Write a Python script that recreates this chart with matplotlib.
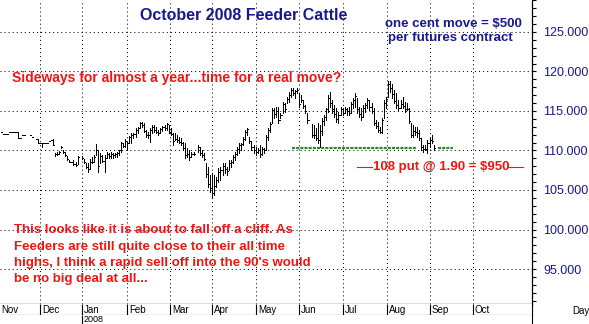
import matplotlib
matplotlib.use('Agg')
import matplotlib.pyplot as plt
import numpy as np
from matplotlib.ticker import MultipleLocator

plt.rcParams['font.family'] = ['Liberation Sans', 'DejaVu Sans']
plt.rcParams['lines.scale_dashes'] = False

nan = float('nan')

# daily high / low / close, Oct 2008 feeder cattle
highs = [112.4, 112.1, 112.1, 112.1, 112.3, 112.3, 112.3, 112.3, 112.3, 111.55,
         111.9, 111.9, nan, nan, 111.9, 111.75, nan, 111.4, 111.4, 110.9,
         110.9, 110.9, 110.9, 111.25, 111.3, 111.5, 109.7, 109.8, 109.9, 110.6,
         110.1, 109.8, 109.3, 108.8, 108.5, 108.8, 108.5, 109.3, nan, 109.3,
         108.9, 108.4, 108.4, 108.9, 109.2, 109.4, 110.8, 110.1, 109.7, 109.4,
         109.4, 109.8, 109.7, 109.8, 109.7, 109.7, 109.8, 110.1, 111.1, 110.95,
         111.45, 111.1, 111.85, 112.2, 112.2, 112.85, 113.0, 113.6, 113.6, 113.5,
         112.6, 112.3, 112.85, 113.2, 113.2, 113.0, 112.6, 112.85, 113.1, 113.2,
         113.5, 113.2, 112.85, 112.2, 112.2, 111.95, 111.7, 111.6, 111.1, 110.95,
         110.3, 110.05, 109.8, 109.8, nan, 110.7, 110.45, 110.05, 109.7, 108.4,
         107.9, 106.9, 107.15, 106.9, 106.65, 107.8, 107.9, 108.4, 108.4, 107.9,
         108.8, 108.8, 109.4, 109.8, 110.45, 110.95, 110.95, 111.7, 112.6, 112.85,
         111.7, 111.1, 110.7, 110.45, 110.3, 110.7, 110.45, 110.3, 111.95, 112.85,
         113.6, 115.4, 115.4, 115.5, 115.5, 114.75, 116.15, 116.0, 116.8, 117.4,
         117.9, 117.9, 117.65, 117.9, 117.3, 117.0, 116.4, 115.75, 114.75, nan,
         113.35, 113.2, 112.85, 113.5, 113.2, 114.1, 114.5, 115.4, 117.0, 117.4,
         116.4, 115.75, 115.4, 114.9, 115.5, 115.4, 115.5, 115.4, 115.5, 116.15,
         116.65, 117.3, 116.65, 115.5, 115.4, 115.75, 116.0, 116.65, 116.4, 116.0,
         115.4, 113.85, 113.6, 113.0, 114.1, 116.4, 116.8, 118.8, 118.8, 118.4,
         117.65, 117.3, 116.4, 116.4, 116.8, 116.15, 116.0, 115.4, 113.5, 113.2,
         113.0, 113.0, 112.6, 111.6, 110.7, 110.7, 111.3, 111.6, 111.95, 110.7]
lows = [112.4, 112.1, 112.1, 112.1, 112.3, 112.3, 112.3, 112.3, 111.55, 111.55,
        111.9, 111.9, nan, nan, 111.9, 111.75, nan, 111.4, 110.9, 110.9,
        110.4, 110.9, 110.9, 111.25, 111.3, 110.7, 109.3, 109.4, 109.5, 110.3,
        109.7, 109.3, 108.8, 108.5, 108.5, 108.2, 108.0, 108.3, nan, 108.9,
        108.4, 107.8, 107.3, 107.7, 108.4, 108.5, 109.4, 107.3, 108.4, 108.5,
        107.3, 109.05, 109.1, 109.1, 109.05, 109.2, 109.2, 109.4, 109.8, 110.45,
        110.45, 110.1, 110.95, 110.95, 111.6, 111.7, 112.2, 112.85, 113.0, 112.3,
        111.7, 111.6, 111.1, 112.2, 112.3, 112.2, 112.0, 112.2, 112.5, 112.6,
        112.6, 112.2, 111.95, 110.7, 111.3, 111.1, 110.95, 110.7, 110.05, 109.05,
        109.2, 108.8, 109.2, 109.4, nan, 109.8, 109.45, 109.2, 108.8, 106.65,
        105.4, 104.75, 104.1, 104.4, 105.4, 106.0, 106.3, 106.9, 107.15, 106.9,
        107.5, 107.9, 108.4, 108.8, 109.4, 109.7, 110.05, 110.7, 111.3, 111.95,
        110.95, 110.05, 109.7, 109.45, 109.7, 109.2, 109.45, 109.7, 110.05, 111.3,
        112.35, 113.5, 114.1, 114.25, 113.5, 114.1, 114.75, 114.9, 116.0, 116.15,
        116.8, 117.0, 116.65, 117.3, 115.5, 116.15, 115.4, 114.75, 113.5, nan,
        111.7, 111.6, 111.3, 110.95, 110.45, 111.95, 113.2, 113.85, 114.9, 115.5,
        114.75, 114.25, 113.6, 113.5, 114.5, 114.5, 114.75, 114.5, 114.5, 114.75,
        115.4, 115.5, 114.75, 114.25, 113.85, 114.25, 114.9, 115.4, 115.1, 114.75,
        113.2, 112.85, 112.35, 112.2, 112.2, 114.1, 115.4, 116.8, 117.4, 116.65,
        116.0, 115.4, 115.1, 115.4, 115.4, 114.9, 115.1, 113.5, 111.7, 111.7,
        111.95, 111.7, 111.3, 110.05, 109.8, 110.05, 109.7, 110.45, 110.95, 110.05]
closes = [112.4, 112.1, 112.1, 112.1, 112.3, 112.3, 112.3, 112.3, 111.55, 111.55,
          111.9, 111.9, nan, nan, 111.9, 111.75, nan, 111.4, 110.9, 110.9,
          110.9, 110.9, 110.9, 111.25, 111.3, 110.7, 109.5, 109.6, 109.8, 110.4,
          109.8, 109.4, 108.9, 108.5, 108.5, 108.3, 108.2, 109.2, nan, 109.0,
          108.5, 107.9, 107.6, 108.6, 108.6, 109.2, 110.0, 108.0, 109.3, 108.7,
          109.0, 109.5, 109.3, 109.6, 109.4, 109.5, 109.7, 110.0, 110.9, 110.6,
          111.2, 110.9, 111.7, 112.0, 112.1, 112.6, 112.8, 113.5, 113.2, 112.5,
          111.9, 112.0, 112.6, 113.0, 112.6, 112.4, 112.2, 112.7, 113.0, 112.9,
          113.3, 112.4, 112.1, 111.2, 111.5, 111.3, 111.1, 110.9, 110.3, 109.4,
          109.6, 109.2, 109.5, 109.6, nan, 110.4, 109.7, 109.4, 108.9, 107.0,
          105.8, 105.2, 104.6, 105.5, 106.3, 107.3, 107.5, 108.0, 107.6, 107.4,
          108.4, 108.5, 109.2, 109.6, 110.2, 110.7, 110.8, 111.5, 112.3, 112.7,
          111.2, 110.4, 110.0, 109.8, 110.1, 109.5, 110.2, 110.0, 111.7, 112.6,
          113.4, 115.1, 114.6, 115.0, 113.8, 114.5, 115.9, 115.2, 116.5, 117.0,
          117.6, 117.3, 117.5, 117.7, 115.9, 116.4, 115.6, 115.0, 113.8, nan,
          112.0, 111.9, 111.6, 111.3, 112.5, 113.7, 114.3, 115.2, 116.6, 116.0,
          115.2, 114.6, 114.0, 114.5, 115.2, 114.8, 115.3, 115.0, 114.7, 115.9,
          116.4, 116.9, 115.2, 114.6, 114.2, 115.4, 115.7, 116.4, 115.5, 115.0,
          113.5, 113.1, 112.6, 112.4, 113.8, 116.0, 116.5, 118.4, 117.9, 117.2,
          116.3, 115.8, 115.4, 115.9, 115.6, 115.2, 115.3, 113.7, 112.0, 112.5,
          112.3, 112.2, 111.6, 110.4, 110.2, 110.2, 111.0, 111.3, 111.2, 110.3]

months = ['Nov', 'Dec', 'Jan', 'Feb', 'Mar', 'Apr', 'May', 'Jun', 'Jul', 'Aug', 'Sep', 'Oct']
month_start = [-1.0, 18.8, 39.1, 60.9, 81.6, 101.9, 123.2, 144.0, 165.2, 186.5, 207.2, 228.0]
year_label = '2008'
support = 110.3
support_spans = [(140.6, 201.0), (211.0, 218.4)]
price_ticks = [95, 100, 105, 110, 115, 120, 125]

navy = '#18188c'
red = '#f01414'
W, H = 589, 324


def box(x0, y0, x1, y1):
    return [x0 / W, 1 - y1 / H, (x1 - x0) / W, (y1 - y0) / H]


fig = plt.figure(figsize=(W / 100, H / 100), dpi=100)
ax = fig.add_axes(box(0, 0, 532, 304))
axm = fig.add_axes(box(0, 304, 532, 315))
axy = fig.add_axes(box(0, 315, 532, 324))

xlim = (-0.48, 256.5)
idx = np.arange(len(highs))
h = np.array(highs)
l = np.array(lows)
c = np.array(closes)

# grid
dot = dict(color='black', lw=0.75, dashes=(0.72, 2.2), zorder=1)
for p in price_ticks:
    ax.axhline(p, **dot)
for b in month_start[1:]:
    ax.axvline(b, **dot)

# support line
for a, b in support_spans:
    ax.plot([a, b], [support, support], color='#2a8a2a', lw=1.6,
            dashes=(2.2, 0.8), solid_capstyle='butt', zorder=2)

# bars
ax.vlines(idx, l, h, color='black', lw=0.72, antialiased=False, zorder=3)
ax.hlines(c, idx, idx + 0.55, color='black', lw=0.72, antialiased=False, zorder=3)

ax.set_xlim(*xlim)
ax.set_ylim(90.57, 129.05)
for s in ['left', 'top']:
    ax.spines[s].set_visible(False)
ax.spines['right'].set_linewidth(0.9)
ax.spines['bottom'].set_linewidth(0.9)
ax.set_xticks([])
ax.yaxis.tick_right()
ax.set_yticks(price_ticks)
ax.set_yticklabels([f'{p:.3f}' for p in price_ticks])
ax.yaxis.set_minor_locator(MultipleLocator(1))
ax.tick_params(axis='y', which='major', length=3, width=0.8, pad=5,
               labelsize=9, labelcolor=navy)
ax.tick_params(axis='y', which='minor', length=3, width=0.8)

# month strip
axm.set_xlim(*xlim)
axm.set_ylim(0, 1)
axm.vlines(month_start[1:], 0, 1, color='black', lw=0.8)
for m, b in zip(months, month_start):
    axm.text(b + 0.9, 0.45, m, fontsize=7, va='center', ha='left', clip_on=True)
axm.set_xticks([])
axm.set_yticks([])
for s in ['left', 'top']:
    axm.spines[s].set_visible(False)

axy.set_xlim(*xlim)
axy.set_ylim(0, 1)
axy.vlines([month_start[2]], 0, 1, color='black', lw=0.8)
axy.text(month_start[2] + 0.9, 0.5, year_label, fontsize=6.5, va='center', ha='left')
axy.set_xticks([])
axy.set_yticks([])
for s in ['left', 'top', 'bottom']:
    axy.spines[s].set_visible(False)

fig.text(572 / W, 1 - 311 / H, 'Day', fontsize=7, va='center', ha='left')

# annotations
def put(x, y, s, **kw):
    fig.text(x / W, 1 - y / H, s, va='baseline', ha='left', fontweight='bold', **kw)


put(140, 20, 'October 2008 Feeder Cattle', fontsize=11.5, color=navy)
put(385, 27, 'one cent move = $500', fontsize=9.5, color=navy)
put(388, 41, 'per futures contract', fontsize=9.5, color=navy)
put(12, 82, 'Sideways for almost a year...time for a real move?', fontsize=10, color=red)
put(373, 170, '108 put @ 1.90 = $950', fontsize=9.5, color=red)

story = ['This looks like it is about to fall off a cliff. As',
         'Feeders are still quite close to their all time',
         "highs, I think a rapid sell off into the 90's would",
         'be no big deal at all...']
for k, line in enumerate(story):
    put(14, 233.3 + 16.35 * k, line, fontsize=9.5, color=red)

for xa, xb in [(357, 372), (508, 523)]:
    fig.add_artist(plt.Line2D([xa / W, xb / W], [1 - 167 / H] * 2, color=red, lw=0.8))

fig.savefig('out.png', dpi=100)
